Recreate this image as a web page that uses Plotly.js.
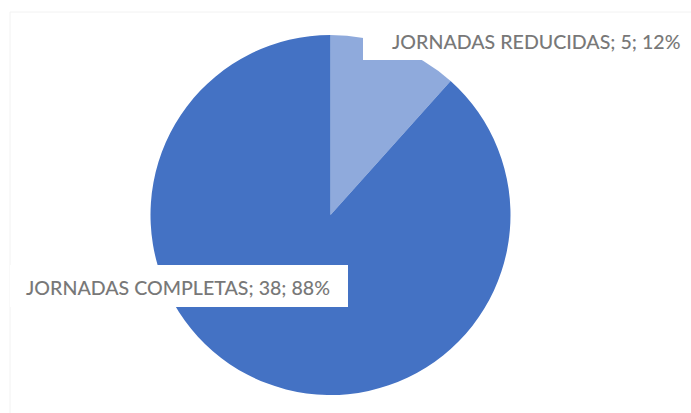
<!DOCTYPE html>
<html>
<head>
<meta charset="utf-8">
<script src="https://cdn.plot.ly/plotly-3.0.1.min.js"></script>
<style>html,body{margin:0;padding:0;background:#fff;}#chart{width:691px;height:413px;}</style>
</head>
<body>
<div id="chart"></div>
<script>
const labels = ["JORNADAS REDUCIDAS", "JORNADAS COMPLETAS"];
const values = [5, 38];
const colors = ["#8FAADC", "#4472C4"];

const W = 691, H = 413;
const px = x => x / W;
const py = y => (H - y) / H;

const total = values.reduce((a, b) => a + b, 0);
const texts = labels.map((l, i) => l + "; " + values[i] + "; " + Math.round(values[i] / total * 100) + "%");

const trace = {
  type: "pie",
  labels: labels,
  values: values,
  sort: false,
  direction: "clockwise",
  rotation: 0,
  marker: {colors: colors, line: {width: 0}},
  textinfo: "none",
  hoverinfo: "none",
  showlegend: false,
  domain: {x: [px(150.5), px(510.5)], y: [py(395), py(35)]}
};

const font = {family: "Lato, 'Open Sans', sans-serif", size: 19.6, color: "#787878", weight: 500};

const layout = {
  width: W, height: H,
  margin: {l: 0, r: 0, t: 0, b: 0},
  paper_bgcolor: "#ffffff",
  showlegend: false,
  shapes: [
    {type: "rect", xref: "paper", yref: "paper", x0: px(10), x1: px(700), y0: py(420), y1: py(12),
     line: {color: "#F2F2F2", width: 1}, fillcolor: "rgba(0,0,0,0)", layer: "below"},
    {type: "rect", xref: "paper", yref: "paper", x0: px(363), x1: px(692), y0: py(60), y1: py(24),
     line: {width: 0}, fillcolor: "#ffffff", layer: "above"},
    {type: "rect", xref: "paper", yref: "paper", x0: px(10), x1: px(348), y0: py(307), y1: py(265),
     line: {width: 0}, fillcolor: "#ffffff", layer: "above"}
  ],
  annotations: [
    {text: texts[0], xref: "paper", yref: "paper", x: px(536), y: py(41.5), xanchor: "center", yanchor: "middle",
     showarrow: false, font: font},
    {text: texts[1], xref: "paper", yref: "paper", x: px(177.5), y: py(287.5), xanchor: "center", yanchor: "middle",
     showarrow: false, font: font}
  ]
};

Plotly.newPlot("chart", [trace], layout, {staticPlot: true, displayModeBar: false});
</script>
</body>
</html>
